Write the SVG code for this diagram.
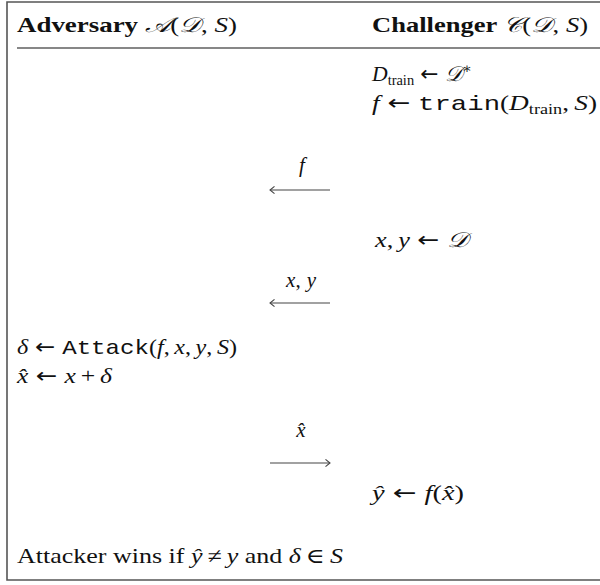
<svg xmlns="http://www.w3.org/2000/svg" width="600" height="585" viewBox="0 0 600 585">
<defs>
<style>
text{font-family:"Liberation Serif","DejaVu Serif",serif;font-size:21px;fill:#111}
.h{font-weight:bold;font-size:21px}
.n{font-weight:normal}
.i{font-style:italic}
.m{font-family:"Liberation Mono","DejaVu Sans Mono",monospace;font-size:21px}
.ar{font-family:"DejaVu Sans",sans-serif;font-size:21px}
.s{font-size:14px}
.frame{fill:none;stroke:#555;stroke-width:1.6}
.rule{stroke:#111;stroke-width:1.2}
.msg{stroke:#444;stroke-width:1.2;fill:none}
</style>
<marker id="ah" viewBox="0 0 10 10" refX="9" refY="5" markerWidth="9" markerHeight="9" markerUnits="userSpaceOnUse" orient="auto-start-reverse">
<path d="M4,1 L9,5 L4,9" fill="none" stroke="#444" stroke-width="1.2"/>
</marker>
</defs>
<path class="frame" d="M600,2 H7 V580 H600"/>
<line class="rule" x1="17" y1="48" x2="600" y2="48"/>
<g id="adversary-header"><text x="17" y="32" class="h" textLength="220" lengthAdjust="spacingAndGlyphs">Adversary <tspan class="i n">𝒜</tspan><tspan class="n">(</tspan><tspan class="i n">𝒟</tspan><tspan class="n">, </tspan><tspan class="i n">S</tspan><tspan class="n">)</tspan></text></g>
<g id="challenger-header"><text x="372" y="32" class="h" textLength="216" lengthAdjust="spacingAndGlyphs">Challenger <tspan class="i n">𝒞</tspan><tspan class="n">(</tspan><tspan class="i n">𝒟</tspan><tspan class="n">, </tspan><tspan class="i n">S</tspan><tspan class="n">)</tspan></text></g>
<g id="c1"><text x="372" y="81" textLength="100" lengthAdjust="spacingAndGlyphs"><tspan class="i">D</tspan><tspan class="s" dy="4">train</tspan><tspan class="ar" dy="-4" dx="6">←</tspan><tspan class="i" dx="6">𝒟</tspan><tspan class="s" dy="-8">∗</tspan></text></g>
<g id="c2"><text x="372" y="110" textLength="225" lengthAdjust="spacingAndGlyphs"><tspan class="i">f</tspan><tspan class="ar" dx="6">←</tspan><tspan class="m" dx="6">train</tspan>(<tspan class="i">D</tspan><tspan class="s" dy="4">train</tspan><tspan dy="-4">,</tspan><tspan class="i" dx="4">S</tspan>)</text></g>
<g id="c3"><text x="375" y="247" textLength="93" lengthAdjust="spacingAndGlyphs"><tspan class="i">x</tspan>,<tspan class="i" dx="4">y</tspan><tspan class="ar" dx="6">←</tspan><tspan class="i" dx="6">𝒟</tspan></text></g>
<g id="a1"><text x="17" y="354" textLength="220" lengthAdjust="spacingAndGlyphs"><tspan class="i">δ</tspan><tspan class="ar" dx="6">←</tspan><tspan class="m" dx="6">Attack</tspan>(<tspan class="i">f</tspan>,<tspan class="i" dx="4">x</tspan>,<tspan class="i" dx="4">y</tspan>,<tspan class="i" dx="4">S</tspan>)</text></g>
<g id="a2"><text x="17" y="383" textLength="95" lengthAdjust="spacingAndGlyphs"><tspan class="i">x̂</tspan><tspan class="ar" dx="6">←</tspan><tspan class="i" dx="6">x</tspan><tspan dx="4">+</tspan><tspan class="i" dx="4">δ</tspan></text></g>
<g id="c4"><text x="372" y="500" textLength="92" lengthAdjust="spacingAndGlyphs"><tspan class="i">ŷ</tspan><tspan class="ar" dx="6">←</tspan><tspan class="i" dx="6">f</tspan>(<tspan class="i">x̂</tspan>)</text></g>
<g id="result"><text x="17" y="563" textLength="326" lengthAdjust="spacingAndGlyphs">Attacker wins if <tspan class="i">ŷ</tspan><tspan dx="4">≠</tspan><tspan class="i" dx="4">y</tspan> and <tspan class="i">δ</tspan><tspan dx="4">∈</tspan><tspan class="i" dx="4">S</tspan></text></g>
<g id="connectors">
<line class="msg" x1="330" y1="190" x2="270" y2="190" marker-end="url(#ah)"/>
<text x="302" y="172" class="i" text-anchor="middle">f</text>
<line class="msg" x1="330" y1="303" x2="270" y2="303" marker-end="url(#ah)"/>
<text x="301" y="287" text-anchor="middle"><tspan class="i">x</tspan>,<tspan class="i" dx="6">y</tspan></text>
<line class="msg" x1="270" y1="463" x2="330" y2="463" marker-end="url(#ah)"/>
<text x="301" y="437" class="i" text-anchor="middle">x̂</text>
</g>
</svg>
